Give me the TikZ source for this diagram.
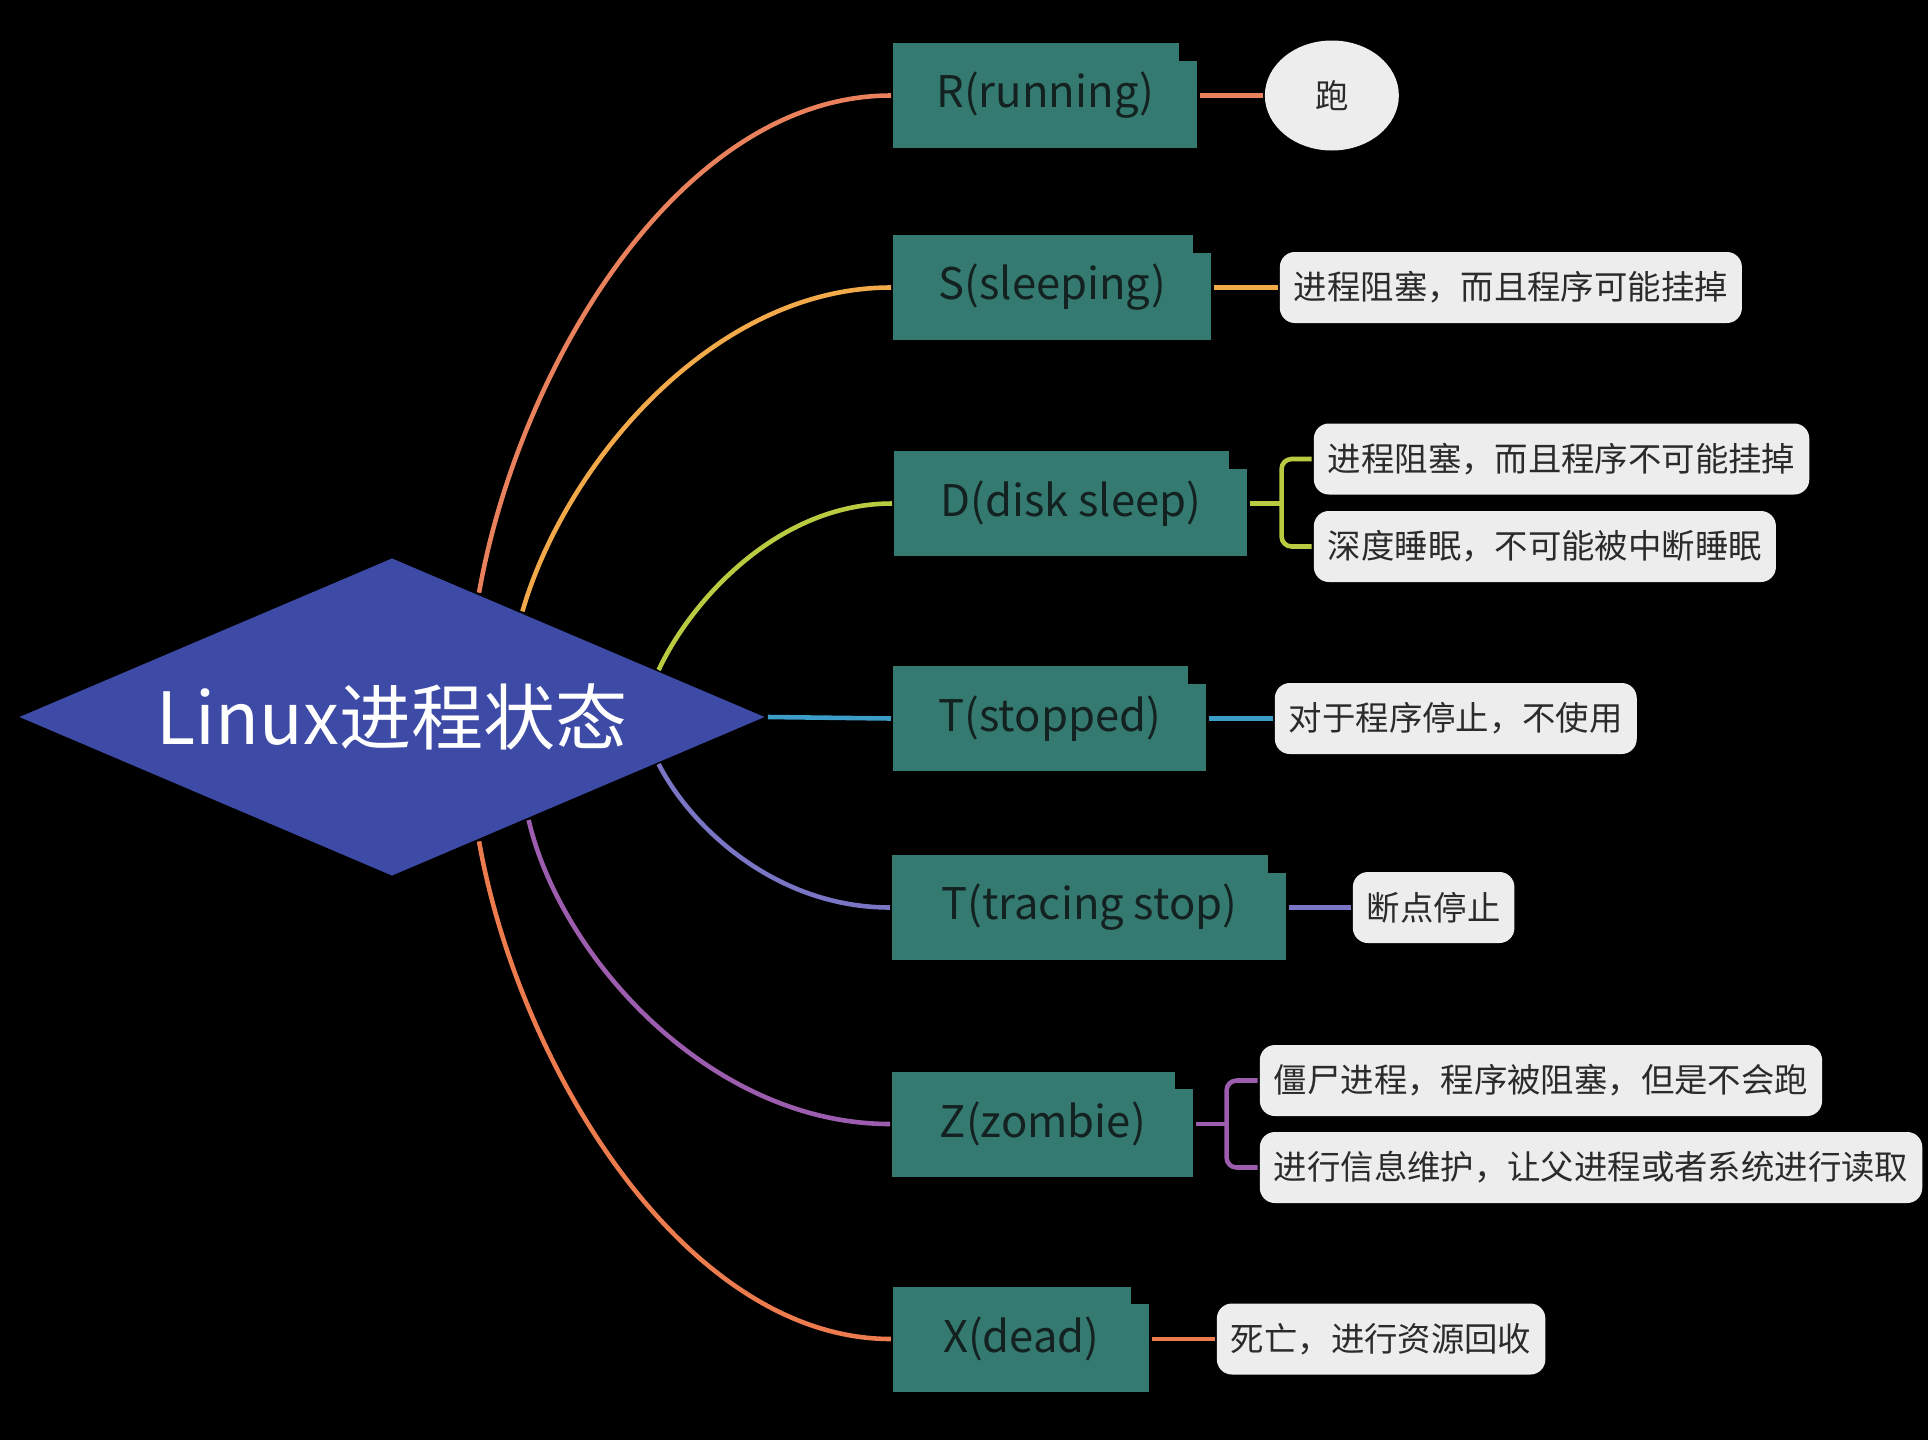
\documentclass[tikz,border=0pt]{standalone}
\usepackage{fontspec}
\setmainfont{Noto Sans CJK SC}
\usetikzlibrary{positioning,shapes.geometric}

\definecolor{rootblue}{HTML}{3D4AA6}
\definecolor{boxteal}{HTML}{357A71}
\definecolor{boxtext}{HTML}{132220}
\definecolor{notegray}{HTML}{EDEDED}
\definecolor{notetext}{HTML}{2B2B2B}
\definecolor{runcol}{HTML}{E9825C}
\definecolor{sleepcol}{HTML}{F2A94A}
\definecolor{diskcol}{HTML}{B9CB41}
\definecolor{stopcol}{HTML}{3C9DC8}
\definecolor{tracecol}{HTML}{7A75C4}
\definecolor{zombcol}{HTML}{9C5DAE}
\definecolor{deadcol}{HTML}{EC7C4E}

\begin{document}
\begin{tikzpicture}[line width=1.3pt]
    \tikzstyle{statebox} = [rectangle, fill=boxteal, text=boxtext, minimum height=1.05cm, inner sep=0pt, anchor=west, font=\fontsize{12.4}{15}\selectfont]
    \tikzstyle{note} = [rectangle, rounded corners=0.15cm, fill=notegray, text=notetext, minimum height=0.71cm, inner xsep=0.14cm, inner ysep=0pt, anchor=west, font=\fontsize{9.5}{11}\selectfont]

    % Background
    \fill[black] (0,0) rectangle (19.28,-14.40);
    \useasboundingbox (0,0) rectangle (19.28,-14.40);

    % Root
    \node[diamond, aspect=2.34, minimum width=7.47cm, minimum height=3.19cm, inner sep=0pt, fill=rootblue, text=white, font=\fontsize{20.5}{24}\selectfont] (root) at (3.92,-7.17) {Linux进程状态};

    % States
    \node[statebox, minimum width=3.04cm] (run) at (8.91,-0.955) {R(running)};
    \node[statebox, minimum width=3.18cm] (sleep) at (8.91,-2.875) {S(sleeping)};
    \node[statebox, minimum width=3.53cm] (disk) at (8.92,-5.035) {D(disk sleep)};
    \node[statebox, minimum width=3.13cm] (stop) at (8.91,-7.185) {T(stopped)};
    \node[statebox, minimum width=3.94cm] (trace) at (8.90,-9.075) {T(tracing stop)};
    \node[statebox, minimum width=3.01cm] (zomb) at (8.90,-11.24) {Z(zombie)};
    \node[statebox, minimum width=2.56cm] (dead) at (8.91,-13.39) {X(dead)};

    % Box tabs
    \foreach \n in {run,sleep,disk,stop,trace,zomb,dead}
        \fill[black] ([xshift=-0.21cm]\n.north east) rectangle ([yshift=-0.20cm]\n.north east);

    % Notes
    \node[ellipse, fill=notegray, text=notetext, minimum width=1.34cm, minimum height=1.10cm, inner sep=0pt, right=0.63cm of run, font=\fontsize{9.5}{11}\selectfont] (runnote) {跑};
    \node[note, right=0.64cm of sleep] (sleepnote) {进程阻塞，而且程序可能挂掉};
    \node[note, right=0.62cm of disk, yshift=0.445cm] (disknoteA) {进程阻塞，而且程序不可能挂掉};
    \node[note, right=0.62cm of disk, yshift=-0.43cm] (disknoteB) {深度睡眠，不可能被中断睡眠};
    \node[note, right=0.64cm of stop] (stopnote) {对于程序停止，不使用};
    \node[note, right=0.62cm of trace] (tracenote) {断点停止};
    \node[note, right=0.62cm of zomb, yshift=0.435cm] (zombnoteA) {僵尸进程，程序被阻塞，但是不会跑};
    \node[note, right=0.62cm of zomb, yshift=-0.435cm] (zombnoteB) {进行信息维护，让父进程或者系统进行读取};
    \node[note, right=0.63cm of dead] (deadnote) {死亡，进行资源回收};

    \coordinate[right=0.32cm of disk] (diskfork);
    \coordinate[right=0.31cm of zomb] (zombfork);

    % Branches
    \draw[runcol] (root.55) .. controls +(80:2.3) and +(180:2.1) .. (run.west);
    \draw[sleepcol] (root.39) .. controls +(74:1.5) and +(180:1.8) .. (sleep.west);
    \draw[diskcol] (root.10) .. controls +(65:0.75) and +(180:1.15) .. (disk.west);
    \draw[stopcol] (root.east) -- (stop.west);
    \draw[tracecol] (root.-10) .. controls +(-63:0.7) and +(180:1.15) .. (trace.west);
    \draw[zombcol] (root.-37) .. controls +(-77:1.4) and +(180:1.8) .. (zomb.west);
    \draw[deadcol] (root.-55) .. controls +(-80:2.3) and +(180:2.05) .. (dead.west);

    % Note links
    \draw[runcol] (run) -- (runnote);
    \draw[sleepcol] (sleep) -- (sleepnote);
    \draw[diskcol] (disk) -- (diskfork);
    \draw[diskcol, rounded corners=0.1cm] (disknoteA.west) -| (diskfork) |- (disknoteB.west);
    \draw[stopcol] (stop) -- (stopnote);
    \draw[tracecol] (trace) -- (tracenote);
    \draw[zombcol] (zomb) -- (zombfork);
    \draw[zombcol, rounded corners=0.1cm] (zombnoteA.west) -| (zombfork) |- (zombnoteB.west);
    \draw[deadcol] (dead) -- (deadnote);
\end{tikzpicture}
\end{document}
